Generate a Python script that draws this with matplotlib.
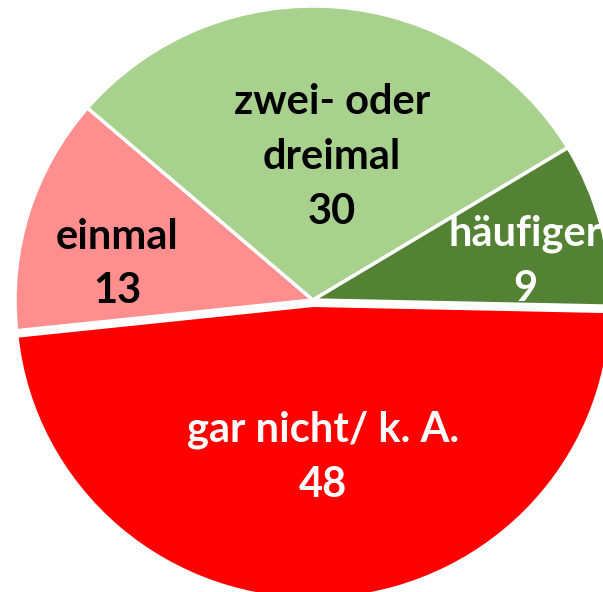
import matplotlib
matplotlib.use("Agg")
import matplotlib.pyplot as plt

categories = ["einmal", "zwei- oder\ndreimal", "häufiger", "gar nicht/ k. A."]
values = [13, 30, 9, 48]
colors = ["#FF8F8F", "#A9D18E", "#548235", "#FF0000"]
text_colors = ["black", "black", "white", "white"]
explode = [0, 0, 0, 0.018]
# label centres in pixel coordinates of the 603x592 image
label_px = [(117, 264), (332, 157), (525, 261), (323, 457)]

W, H = 603, 592
cx, cy = 313, 300      # pie centre (pixels)
rx, ry = 298, 294      # pixels per unit radius

fig = plt.figure(figsize=(W / 100, H / 100), dpi=100)
ax = fig.add_axes([0, 0, 1, 1])
ax.pie(values, colors=colors, startangle=186, counterclock=False,
       radius=1.0, center=(0, 0), explode=explode,
       wedgeprops=dict(edgecolor="white", linewidth=2.5))
ax.set_aspect("auto")
ax.set_xlim(-cx / rx, (W - cx) / rx)
ax.set_ylim(-(H - cy) / ry, cy / ry)
ax.axis("off")

for cat, v, tc, (px, py) in zip(categories, values, text_colors, label_px):
    ax.text(px / W, 1 - py / H, f"{cat}\n{v}", transform=ax.transAxes,
            ha="center", va="center", color=tc, fontsize=30,
            fontweight="bold", family="Lato", linespacing=1.54,
            clip_on=True)

fig.savefig("out.png", dpi=100)
